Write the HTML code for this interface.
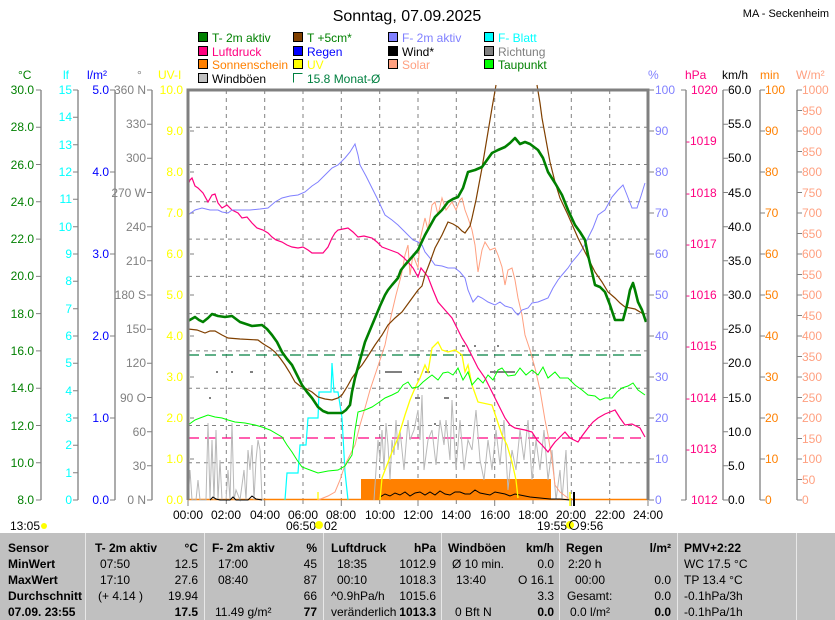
<!DOCTYPE html>
<html><head><meta charset="utf-8"><style>
html,body{margin:0;padding:0;background:#fff;}
svg{display:block;font-family:"Liberation Sans",sans-serif;}
</style></head><body>
<svg width="835" height="620" viewBox="0 0 835 620" xmlns="http://www.w3.org/2000/svg">
<rect width="835" height="620" fill="#fff"/>
<text x="407" y="21" font-size="16" text-anchor="middle" fill="#000">Sonntag, 07.09.2025</text>
<text x="829" y="17" font-size="11" text-anchor="end" fill="#000">MA - Seckenheim</text>
<!-- legend -->
<g font-size="12" stroke="#000" stroke-width="1">
<rect x="198.5" y="32.5" width="9" height="9" fill="#008000"/>
<rect x="293.5" y="32.5" width="9" height="9" fill="#804000"/>
<rect x="388.5" y="32.5" width="9" height="9" fill="#8080ff"/>
<rect x="484.5" y="32.5" width="9" height="9" fill="#00ffff"/>
<rect x="198.5" y="46.5" width="9" height="9" fill="#ff0080"/>
<rect x="293.5" y="46.5" width="9" height="9" fill="#0000ff"/>
<rect x="388.5" y="46.5" width="9" height="9" fill="#000"/>
<rect x="484.5" y="46.5" width="9" height="9" fill="#808080"/>
<rect x="198.5" y="59.5" width="9" height="9" fill="#ff8000"/>
<rect x="293.5" y="59.5" width="9" height="9" fill="#ffff00"/>
<rect x="388.5" y="59.5" width="9" height="9" fill="#ffa080"/>
<rect x="484.5" y="59.5" width="9" height="9" fill="#00ff00"/>
<rect x="198.5" y="73.5" width="9" height="9" fill="#c0c0c0"/>
<path d="M302.5 73.5 H293.5 V82.5" fill="none" stroke="#008040"/>
</g>
<g font-size="12">
<text x="212" y="42" fill="#008000">T- 2m aktiv</text>
<text x="307" y="42" fill="#008000">T +5cm*</text>
<text x="402" y="42" fill="#8080ff">F- 2m aktiv</text>
<text x="498" y="42" fill="#00ffff">F- Blatt</text>
<text x="212" y="56" fill="#ff0080">Luftdruck</text>
<text x="307" y="56" fill="#0000ff">Regen</text>
<text x="402" y="56" fill="#000">Wind*</text>
<text x="498" y="56" fill="#808080">Richtung</text>
<text x="212" y="69" fill="#ff8000">Sonnenschein</text>
<text x="307" y="69" fill="#ffff00">UV</text>
<text x="402" y="69" fill="#ffa080">Solar</text>
<text x="498" y="69" fill="#008000">Taupunkt</text>
<text x="212" y="83" fill="#000">Windböen</text>
<text x="307" y="83" fill="#008040">15.8 Monat-Ø</text>
</g>
<!-- axis headers -->
<g font-size="12">
<text x="18" y="79" fill="#008000">°C</text>
<text x="63" y="79" fill="#00ffff">lf</text>
<text x="87" y="79" fill="#0000ff">l/m²</text>
<text x="137" y="79" fill="#808080">°</text>
<text x="158" y="79" fill="#ffff00">UV-I</text>
<text x="648" y="79" fill="#8080ff">%</text>
<text x="685" y="79" fill="#ff0080">hPa</text>
<text x="722" y="79" fill="#000">km/h</text>
<text x="760" y="79" fill="#ff8000">min</text>
<text x="796" y="79" fill="#ffa080">W/m²</text>
</g>
<!-- axis lines -->
<g stroke="#808080" stroke-width="1.3">
<line x1="41" y1="90" x2="41" y2="500"/><line x1="78" y1="90" x2="78" y2="500"/>
<line x1="115" y1="90" x2="115" y2="500"/><line x1="152" y1="90" x2="152" y2="500"/>
<line x1="686" y1="90" x2="686" y2="500"/><line x1="723" y1="90" x2="723" y2="500"/>
<line x1="760" y1="90" x2="760" y2="500"/><line x1="797" y1="90" x2="797" y2="500"/>
</g>
<!-- left labels -->
<g font-size="12" text-anchor="end">
<g fill="#008000">
<text x="34" y="94">30.0</text><text x="34" y="131">28.0</text><text x="34" y="169">26.0</text><text x="34" y="206">24.0</text><text x="34" y="243">22.0</text><text x="34" y="280">20.0</text><text x="34" y="318">18.0</text><text x="34" y="355">16.0</text><text x="34" y="392">14.0</text><text x="34" y="430">12.0</text><text x="34" y="467">10.0</text><text x="34" y="504">8.0</text>
</g>
<g fill="#00ffff">
<text x="72" y="94">15</text><text x="72" y="121">14</text><text x="72" y="149">13</text><text x="72" y="176">12</text><text x="72" y="203">11</text><text x="72" y="231">10</text><text x="72" y="258">9</text><text x="72" y="285">8</text><text x="72" y="313">7</text><text x="72" y="340">6</text><text x="72" y="367">5</text><text x="72" y="395">4</text><text x="72" y="422">3</text><text x="72" y="449">2</text><text x="72" y="477">1</text><text x="72" y="504">0</text>
</g>
<g fill="#0000ff">
<text x="109" y="94">5.0</text><text x="109" y="176">4.0</text><text x="109" y="258">3.0</text><text x="109" y="340">2.0</text><text x="109" y="422">1.0</text><text x="109" y="504">0.0</text>
</g>
<g fill="#808080">
<text x="146" y="94">360 N</text><text x="146" y="128">330</text><text x="146" y="162">300</text><text x="146" y="197">270 W</text><text x="146" y="231">240</text><text x="146" y="265">210</text><text x="146" y="299">180 S</text><text x="146" y="333">150</text><text x="146" y="367">120</text><text x="146" y="402">90 O</text><text x="146" y="436">60</text><text x="146" y="470">30</text><text x="146" y="504">0 N</text>
</g>
<g fill="#ffff00">
<text x="183" y="94">10.0</text><text x="183" y="135">9.0</text><text x="183" y="176">8.0</text><text x="183" y="217">7.0</text><text x="183" y="258">6.0</text><text x="183" y="299">5.0</text><text x="183" y="340">4.0</text><text x="183" y="381">3.0</text><text x="183" y="422">2.0</text><text x="183" y="463">1.0</text><text x="183" y="504">0.0</text>
</g>
</g>
<!-- left ticks -->
<g stroke="#808080">
<path d="M36 90H41M36 127.3H41M36 164.5H41M36 201.8H41M36 239.1H41M36 276.4H41M36 313.6H41M36 350.9H41M36 388.2H41M36 425.5H41M36 462.7H41M36 500H41"/>
<path d="M73 90H78M73 117.3H78M73 144.7H78M73 172H78M73 199.3H78M73 226.7H78M73 254H78M73 281.3H78M73 308.7H78M73 336H78M73 363.3H78M73 390.7H78M73 418H78M73 445.3H78M73 472.7H78M73 500H78"/>
<path d="M110 90H115M110 172H115M110 254H115M110 336H115M110 418H115M110 500H115"/>
<path d="M147 90H152M147 124.2H152M147 158.3H152M147 192.5H152M147 226.7H152M147 260.8H152M147 295H152M147 329.2H152M147 363.3H152M147 397.5H152M147 431.7H152M147 465.8H152M147 500H152"/>
<path d="M190 131H194M190 172H194M190 213H194M190 254H194M190 295H194M190 336H194M190 377H194M190 418H194M190 459H194"/>
</g>
<!-- right labels -->
<g font-size="12">
<g fill="#8080ff">
<text x="655" y="94">100</text><text x="655" y="135">90</text><text x="655" y="176">80</text><text x="655" y="217">70</text><text x="655" y="258">60</text><text x="655" y="299">50</text><text x="655" y="340">40</text><text x="655" y="381">30</text><text x="655" y="422">20</text><text x="655" y="463">10</text><text x="655" y="504">0</text>
</g>
<g fill="#ff0080">
<text x="691" y="94">1020</text><text x="686" y="145">-1019</text><text x="686" y="197">-1018</text><text x="686" y="248">-1017</text><text x="686" y="299">-1016</text><text x="686" y="350">-1015</text><text x="686" y="402">-1014</text><text x="686" y="453">-1013</text><text x="691" y="504">1012</text>
</g>
<g fill="#000">
<text x="728" y="94">60.0</text><text x="728" y="128">55.0</text><text x="728" y="162">50.0</text><text x="728" y="197">45.0</text><text x="728" y="231">40.0</text><text x="728" y="265">35.0</text><text x="728" y="299">30.0</text><text x="728" y="333">25.0</text><text x="728" y="367">20.0</text><text x="728" y="402">15.0</text><text x="728" y="436">10.0</text><text x="728" y="470">5.0</text><text x="728" y="504">0.0</text>
</g>
<g fill="#ff8000">
<text x="765" y="94">100</text><text x="765" y="135">90</text><text x="765" y="176">80</text><text x="765" y="217">70</text><text x="765" y="258">60</text><text x="765" y="299">50</text><text x="765" y="340">40</text><text x="765" y="381">30</text><text x="765" y="422">20</text><text x="765" y="463">10</text><text x="765" y="504">0</text>
</g>
<g fill="#ffa080">
<text x="802" y="94">1000</text><text x="802" y="115">950</text><text x="802" y="135">900</text><text x="802" y="156">850</text><text x="802" y="176">800</text><text x="802" y="197">750</text><text x="802" y="217">700</text><text x="802" y="238">650</text><text x="802" y="258">600</text><text x="802" y="279">550</text><text x="802" y="299">500</text><text x="802" y="320">450</text><text x="802" y="340">400</text><text x="802" y="361">350</text><text x="802" y="381">300</text><text x="802" y="402">250</text><text x="802" y="422">200</text><text x="802" y="443">150</text><text x="802" y="463">100</text><text x="802" y="484">50</text><text x="802" y="504">0</text>
</g>
</g>
<g stroke="#808080">
<path d="M649 90H654M649 131H654M649 172H654M649 213H654M649 254H654M649 295H654M649 336H654M649 377H654M649 418H654M649 459H654M649 500H654"/>
<path d="M681 90H686M681 500H686"/>
<path d="M723 90H728M723 124.2H728M723 158.3H728M723 192.5H728M723 226.7H728M723 260.8H728M723 295H728M723 329.2H728M723 363.3H728M723 397.5H728M723 431.7H728M723 465.8H728M723 500H728"/>
<path d="M760 90H765M760 131H765M760 172H765M760 213H765M760 254H765M760 295H765M760 336H765M760 377H765M760 418H765M760 459H765M760 500H765"/>
<path d="M797 90H802M797 110.5H802M797 131H802M797 151.5H802M797 172H802M797 192.5H802M797 213H802M797 233.5H802M797 254H802M797 274.5H802M797 295H802M797 315.5H802M797 336H802M797 356.5H802M797 377H802M797 397.5H802M797 418H802M797 438.5H802M797 459H802M797 479.5H802M797 500H802"/>
</g>
<!-- grid -->
<g stroke="#808080" stroke-dasharray="4,4" stroke-width="1">
<path d="M188 127.3H648M188 164.5H648M188 201.8H648M188 239.1H648M188 276.4H648M188 313.6H648M188 350.9H648M188 388.2H648M188 425.5H648M188 462.7H648"/>
<path d="M226.3 90V500M264.7 90V500M303 90V500M341.3 90V500M379.7 90V500M418 90V500M456.3 90V500M494.7 90V500M533 90V500M571.3 90V500M609.7 90V500"/>
</g>
<!-- bottom ticks -->
<g stroke="#808080"><path d="M188 500V506M226.3 500V504M264.7 500V506M303 500V504M341.3 500V506M379.7 500V504M418 500V506M456.3 500V504M494.7 500V506M533 500V504M571.3 500V506M609.7 500V504M648 500V506"/></g>
<!-- sunshine -->
<rect x="361" y="479" width="190" height="21" fill="#ff8000"/>
<line x1="188" y1="499.5" x2="648" y2="499.5" stroke="#ff8000" stroke-width="1.5"/>
<!-- dashed reference lines -->
<line x1="188" y1="355" x2="648" y2="355" stroke="#008040" stroke-width="1.2" stroke-dasharray="11,6"/>
<line x1="188" y1="438" x2="648" y2="438" stroke="#ff0080" stroke-width="1.2" stroke-dasharray="11,6"/>
<!-- gusts -->
<polyline fill="none" stroke="#b8b8b8" stroke-width="1" points="188,500 190,470 192,500 196,500 198,480 200,500 206,500 208,423 210,500 212,440 214,500 216,430 218,500 220,460 222,500 226,500 228,470 230,500 232,423 234,500 236,490 240,500 244,470 246,500 248,450 250,470 252,445 254,500 256,460 258,440 260,450 262,500 264,500"/>
<polyline fill="none" stroke="#b8b8b8" stroke-width="1" points="374,500 376,470 378,440 380,460 382,430 384,470 386,423 388,445 390,480 392,440 394,455 396,420 398,450 400,430 404,470 408,420 410,440 414,430 418,410 420,440 422,395 424,470 428,440 432,430 436,465 440,420 444,445 446,420 450,460 452,400 456,470 460,420 464,470 468,440 472,450 476,410 480,460 484,480 488,440 492,470 496,430 500,465 504,420 508,490 512,450 516,470 520,430 524,460 528,420 532,480 536,440 540,470 544,430 548,480 552,450 556,500 560,470 562,500 566,450 568,500 570,500"/>
<!-- wind -->
<polyline fill="none" stroke="#000" stroke-width="1" points="210,500 213,497 216,499 220,500 230,500 233,497 236,500 248,500 252,496 256,499 262,500"/>
<polyline fill="none" stroke="#000" stroke-width="1" points="380,497 385,494 390,496 395,493 400,495 405,492 410,496 415,493 420,492 425,495 430,492 435,495 440,491 445,494 450,495 455,492 460,492 465,494 470,494 475,490 480,493 485,494 490,495 495,492 500,493 505,494 510,496 515,494 520,495 530,497 540,498 550,499 560,499 570,500"/>
<line x1="574" y1="492" x2="574" y2="506" stroke="#000" stroke-width="2"/>
<!-- direction dots -->
<g fill="#808080">
<rect x="216" y="371" width="2" height="2"/><rect x="231" y="371" width="2" height="2"/><rect x="250" y="371" width="3" height="2"/><rect x="209" y="397" width="2" height="2"/>
<rect x="385" y="371" width="17" height="2"/><rect x="414" y="371" width="2" height="2"/><rect x="415" y="397" width="5" height="2"/>
<rect x="425" y="371" width="5" height="2"/><rect x="462" y="345" width="3" height="2"/><rect x="474" y="345" width="2" height="2"/><rect x="497" y="345" width="2" height="2"/>
<rect x="490" y="371" width="25" height="2"/><rect x="444" y="397" width="5" height="2"/><rect x="434" y="423" width="2" height="2"/>
</g>
<!-- leaf wetness -->
<polyline fill="none" stroke="#00ffff" stroke-width="1.2" points="285,500 287,473 298,473 300,445 306,445 308,418 318,418 319,392 331,392 332,363 334,392 338,392 342,418 345,472 348,500"/>
<!-- UV -->
<polyline fill="none" stroke="#ffff00" stroke-width="1.3" points="318,500 318,492"/>
<polyline fill="none" stroke="#ffff00" stroke-width="1.3" points="380,500 382,478 387,465 392,452 398,438 405,415 410,400 415,388 420,378 425,365 428,372 432,348 438,342 442,350 448,352 455,350 462,355 465,372 468,365 472,385 478,402 492,405 497,420 502,435 507,445 512,462 516,480 518,498"/>
<polyline fill="none" stroke="#ffff00" stroke-width="1.5" points="570,492 570,506"/>
<!-- solar -->
<polyline fill="none" stroke="#ffa080" stroke-width="1" points="318,500 328,496 335,492 340,480 345,465 350,455 355,445 360,425 365,408 370,390 375,375 380,360 385,345 388,330 392,312 396,295 400,280 402,272 405,255 408,245 410,275 413,255 418,268 420,240 425,218 428,230 432,205 435,202 438,215 442,198 446,210 452,202 456,210 460,200 462,198 465,210 468,218 472,230 475,245 478,272 482,250 485,242 490,250 495,248 498,255 502,267 505,285 508,270 512,268 515,280 518,298 522,315 525,335 530,350 535,368 540,390 542,402 545,420 548,435 552,460 555,485 560,492 568,498"/>
<!-- dew point -->
<polyline fill="none" stroke="#00ff00" stroke-width="1" points="188,425 195,420 200,418 208,415 215,417 222,418 228,420 235,422 245,423 255,425 262,427 270,430 282,437 287,445 292,452 297,460 302,467 310,470 318,473 328,471 338,470 345,466 352,455 355,430 358,412 365,410 372,407 378,403 385,398 392,395 398,392 403,385 408,382 412,388 418,387 423,382 428,378 432,375 438,380 443,373 448,372 453,375 458,368 463,380 468,372 472,385 478,378 483,383 488,375 493,380 498,370 502,368 508,376 515,375 520,368 526,375 532,370 538,375 543,367 548,378 555,372 560,378 568,378 575,385 582,390 588,395 595,396 600,400 605,398 612,398 617,392 622,388 628,386 633,383 638,390 645,395"/>
<!-- pressure -->
<polyline fill="none" stroke="#ff0080" stroke-width="1.2" points="188,185 190,180 192,178 195,186 198,188 203,193 208,202 212,195 215,194 218,203 222,208 227,205 232,210 238,213 242,218 247,217 252,223 257,228 263,230 268,233 272,237 276,240 282,242 287,245 292,247 298,248 303,247 308,250 312,253 318,253 323,253 328,247 332,238 335,233 338,230 343,229 348,228 353,232 358,237 364,236 372,238 377,242 382,247 390,250 398,253 403,257 408,262 413,268 418,277 421,268 425,273 428,277 433,290 438,302 445,310 452,318 457,328 462,338 467,346 473,358 478,368 485,378 490,388 495,398 500,408 505,418 510,425 515,428 525,430 532,432 537,440 542,445 548,452 552,446 555,442 560,437 565,432 570,438 578,442 582,436 588,428 593,422 598,418 605,414 610,412 615,410 620,418 625,425 632,424 640,428 645,437"/>
<!-- humidity -->
<polyline fill="none" stroke="#8080ff" stroke-width="1" points="188,215 195,210 202,208 210,210 218,210 222,212 228,213 232,210 235,210 250,210 260,209 268,208 275,202 282,198 290,196 298,195 305,192 312,186 318,182 325,175 332,168 338,165 345,158 350,152 355,144 358,155 360,165 366,176 372,188 378,200 385,215 392,220 398,225 403,230 408,235 413,240 418,242 422,245 425,252 430,258 435,265 442,266 448,268 455,268 460,272 465,278 468,290 473,302 478,296 482,298 488,302 495,305 500,302 505,306 512,308 515,312 518,315 522,310 528,308 532,303 538,302 543,300 548,298 553,288 558,280 562,275 568,268 572,262 578,255 583,248 588,238 593,228 598,215 605,210 612,197 618,190 623,185 627,195 632,208 637,208 641,196 645,183"/>
<!-- T +5cm -->
<polyline fill="none" stroke="#804000" stroke-width="1.2" points="188,329 197,330 205,333 210,331 215,331 222,335 228,338 240,339 258,340 262,343 265,345 270,348 275,352 280,358 285,365 290,373 295,382 300,386 305,388 312,392 318,397 325,399 332,400 338,398 342,395 347,387 352,378 357,371 362,365 368,356 375,345 382,335 388,325 395,318 402,312 410,301 418,290 422,286 425,275 430,262 435,248 442,235 448,222 453,224 458,227 462,231 465,233 470,226 472,218 476,200 482,168 488,132 492,108 496,85"/>
<polyline fill="none" stroke="#804000" stroke-width="1.2" points="537,85 540,103 542,118 546,140 550,162 555,182 560,198 568,215 578,238 588,258 595,272 602,282 608,292 615,298 620,303 625,307 635,309 645,315"/>
<!-- T 2m -->
<polyline fill="none" stroke="#008000" stroke-width="2.6" stroke-linejoin="round" points="188,321 195,317 199,320 203,322 208,318 212,314 218,316 225,317 232,316 236,319 240,322 246,324 252,326 262,325 267,329 272,335 277,342 282,352 287,359 292,365 297,375 302,385 307,392 312,398 318,407 323,411 328,413 335,413 342,413 346,410 350,405 352,392 355,378 360,360 365,342 370,330 375,318 380,306 385,295 388,290 392,285 398,278 401,270 405,265 412,257 418,250 425,235 430,226 435,217 442,210 448,202 453,199 458,197 463,188 468,172 475,170 482,167 487,160 492,153 498,150 505,147 510,143 515,138 520,144 525,142 530,144 538,150 543,158 548,172 555,183 562,195 568,210 575,225 580,232 585,240 588,255 592,272 595,285 600,287 605,292 610,305 615,320 620,320 623,320 627,305 630,290 633,283 635,290 638,302 642,310 646,322"/>
<!-- plot border -->
<path d="M188 500V90H648V500" fill="none" stroke="#808080" stroke-width="3"/>
<!-- time labels -->
<g font-size="12" text-anchor="middle" fill="#000">
<text x="188" y="519">00:00</text><text x="226" y="519">02:00</text><text x="265" y="519">04:00</text><text x="303" y="519">06:00</text><text x="341" y="519">08:00</text><text x="380" y="519">10:00</text><text x="418" y="519">12:00</text><text x="456" y="519">14:00</text><text x="495" y="519">16:00</text><text x="533" y="519">18:00</text><text x="571" y="519">20:00</text><text x="610" y="519">22:00</text><text x="648" y="519">24:00</text>
</g>
<g font-size="12" fill="#000">
<text x="10" y="530">13:05</text>
<circle cx="44" cy="526" r="3" fill="#ffff00"/>
<text x="286" y="530">06:50</text>
<circle cx="319" cy="525" r="4" fill="#ffff00"/>
<text x="324" y="530">02</text>
<text x="537" y="530">19:55</text>
<circle cx="570" cy="525" r="4" fill="#ffff00"/>
<circle cx="574" cy="525" r="4.5" fill="none" stroke="#000"/>
<text x="580" y="530">9:56</text>
</g>
<!-- table -->
<rect x="0" y="533" width="835" height="87" fill="#c0c0c0"/>
<g stroke="#e8e8e8" stroke-width="1">
<path d="M85.5 533V620M204.5 533V620M323.5 533V620M441.5 533V620M559.5 533V620M677.5 533V620M796.5 533V620"/>
</g>
<g font-size="12" fill="#000">
<g font-weight="bold">
<text x="8" y="552">Sensor</text><text x="8" y="568">MinWert</text><text x="8" y="584">MaxWert</text><text x="8" y="600">Durchschnitt</text><text x="8" y="616">07.09. 23:55</text>
<text x="95" y="552">T- 2m aktiv</text><text x="212" y="552">F- 2m aktiv</text><text x="331" y="552">Luftdruck</text><text x="448" y="552">Windböen</text><text x="566" y="552">Regen</text><text x="684" y="552">PMV+2:22</text>
</g>
<g text-anchor="end" font-weight="bold">
<text x="198" y="552">°C</text><text x="317" y="552">%</text><text x="436" y="552">hPa</text><text x="554" y="552">km/h</text><text x="671" y="552">l/m²</text>
<text x="198" y="616">17.5</text><text x="317" y="616">77</text><text x="436" y="616">1013.3</text><text x="554" y="616">0.0</text><text x="671" y="616">0.0</text>
</g>
<text x="100" y="568">07:50</text><text x="100" y="584">17:10</text><text x="98" y="600">(+ 4.14 )</text>
<text x="218" y="568">17:00</text><text x="218" y="584">08:40</text><text x="215" y="616">11.49 g/m²</text>
<text x="337" y="568">18:35</text><text x="337" y="584">00:10</text><text x="331" y="600">^0.9hPa/h</text><text x="331" y="616">veränderlich</text>
<text x="452" y="568">Ø 10 min.</text><text x="456" y="584">13:40</text><text x="455" y="616">0 Bft N</text>
<text x="568" y="568">2:20 h</text><text x="575" y="584">00:00</text><text x="567" y="600">Gesamt:</text><text x="570" y="616">0.0 l/m²</text>
<text x="684" y="568">WC 17.5 °C</text><text x="684" y="584">TP 13.4 °C</text><text x="684" y="600">-0.1hPa/3h</text><text x="684" y="616">-0.1hPa/1h</text>
<g text-anchor="end">
<text x="198" y="568">12.5</text><text x="198" y="584">27.6</text><text x="198" y="600">19.94</text>
<text x="317" y="568">45</text><text x="317" y="584">87</text><text x="317" y="600">66</text>
<text x="436" y="568">1012.9</text><text x="436" y="584">1018.3</text><text x="436" y="600">1015.6</text>
<text x="554" y="568">0.0</text><text x="554" y="584">O 16.1</text><text x="554" y="600">3.3</text>
<text x="671" y="584">0.0</text><text x="671" y="600">0.0</text>
</g>
</g>
</svg>
</body></html>
